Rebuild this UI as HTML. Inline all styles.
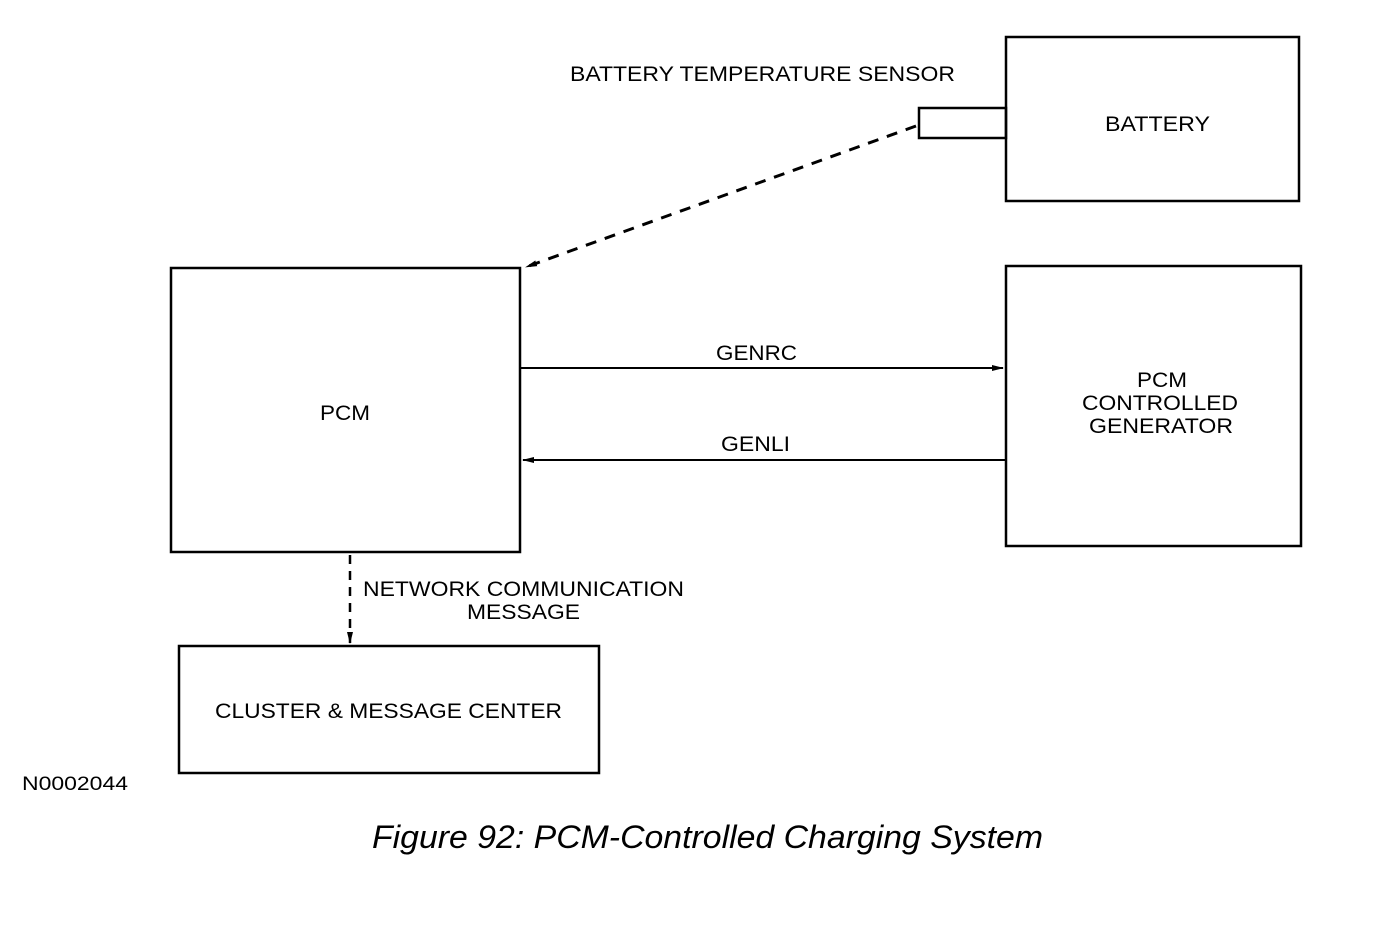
<!DOCTYPE html>
<html><head><meta charset="utf-8"><style>
html,body{margin:0;padding:0;background:#fff;}
svg{display:block;}
text{font-family:"Liberation Sans",sans-serif;fill:#000;}
</style></head><body>
<svg width="1392" height="926" viewBox="0 0 1392 926" xmlns="http://www.w3.org/2000/svg">
<defs>
<marker id="a" markerWidth="12" markerHeight="8" refX="11" refY="4" orient="auto" markerUnits="userSpaceOnUse">
<path d="M0,1 L12,4 L0,7 Z" fill="#000"/></marker>
</defs>
<g fill="none" stroke="#000" stroke-width="2.5">
<rect x="1006" y="37" width="293" height="164"/>
<rect x="919" y="108" width="87" height="30"/>
<rect x="171" y="268" width="349" height="284"/>
<rect x="1006" y="266" width="295" height="280"/>
<rect x="179" y="646" width="420" height="127"/>
</g>
<g stroke="#000" stroke-width="2" fill="none">
<line x1="916" y1="126" x2="526" y2="267" stroke-dasharray="11,9" stroke-width="3" marker-end="url(#a)"/>
<line x1="521" y1="368" x2="1003" y2="368" marker-end="url(#a)"/>
<line x1="1005" y1="460" x2="523" y2="460" marker-end="url(#a)"/>
<line x1="350" y1="555" x2="350" y2="643" stroke-dasharray="9,7" stroke-width="2.5" marker-end="url(#a)"/>
</g>
<g font-size="21" lengthAdjust="spacingAndGlyphs">
<text x="570" y="81" textLength="385" lengthAdjust="spacingAndGlyphs">BATTERY TEMPERATURE SENSOR</text>
<text x="1105" y="131" textLength="105" lengthAdjust="spacingAndGlyphs">BATTERY</text>
<text x="320" y="420" textLength="50" lengthAdjust="spacingAndGlyphs">PCM</text>
<text x="716" y="360" textLength="81" lengthAdjust="spacingAndGlyphs">GENRC</text>
<text x="721" y="451" textLength="69" lengthAdjust="spacingAndGlyphs">GENLI</text>
<text x="1137" y="387" textLength="50" lengthAdjust="spacingAndGlyphs">PCM</text>
<text x="1082" y="410" textLength="156" lengthAdjust="spacingAndGlyphs">CONTROLLED</text>
<text x="1089" y="433" textLength="144" lengthAdjust="spacingAndGlyphs">GENERATOR</text>
<text x="363" y="596" textLength="321" lengthAdjust="spacingAndGlyphs">NETWORK COMMUNICATION</text>
<text x="467" y="619" textLength="113" lengthAdjust="spacingAndGlyphs">MESSAGE</text>
<text x="215" y="718" textLength="347" lengthAdjust="spacingAndGlyphs">CLUSTER &amp; MESSAGE CENTER</text>
<text x="22" y="790" font-size="19" textLength="106" lengthAdjust="spacingAndGlyphs">N0002044</text>
</g>
<text x="372" y="848" font-size="32" font-style="italic" textLength="671" lengthAdjust="spacingAndGlyphs">Figure 92: PCM-Controlled Charging System</text>
</svg>
</body></html>
